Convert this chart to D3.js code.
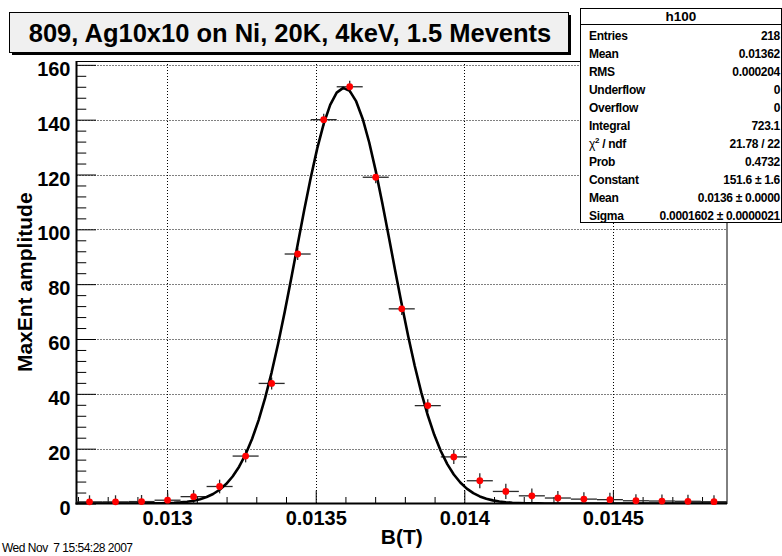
<!DOCTYPE html>
<html><head><meta charset="utf-8">
<script src="https://cdn.jsdelivr.net/npm/d3@7"></script>
<style>
body{margin:0;background:#fff}
text{font-family:"Liberation Sans",Arial,Helvetica,sans-serif}
</style>
</head><body>
<svg id="c" width="782" height="556"></svg>
<script>
// ---- data ----
const binRange = [0.012695, 0.014884];          // histogram axis range, B(T)
const values = [0.6, 0.6, 0.7, 1.2, 2.5, 6.2, 17.3, 43.8, 91, 140, 152, 119, 71, 35.7,
                17, 8.3, 4.4, 2.8, 2.0, 1.6, 1.4, 1.0, 0.9, 0.8, 0.65];
const errors = [2.4, 2.4, 2.4, 2.4, 2.4, 2.5, 2.3, 2.2, 2.2, 2.2, 2.2, 2.2, 2.2, 2.3,
                2.6, 2.7, 2.8, 2.7, 2.6, 2.5, 2.5, 2.4, 2.4, 2.4, 2.4];
const yRange = [0, 161.4];
const xTicks = [0.013, 0.0135, 0.014, 0.0145];
const xTickLabels = ["0.013", "0.0135", "0.014", "0.0145"];
const yTicks = [0, 20, 40, 60, 80, 100, 120, 140, 160];
const yTickLabels = ["0", "20", "40", "60", "80", "100", "120", "140", "160"];
const fitConstant = 151.6, fitMean = 0.013595, fitSigma = 0.0001602;
const titleText = "809, Ag10x10 on Ni, 20K, 4keV, 1.5 Mevents";
const xTitle = "B(T)", yTitle = "MaxEnt amplitude";
const statsName = "h100";
const statsLabels = ["Entries", "Mean", "RMS", "Underflow", "Overflow", "Integral", "CHI2", "Prob", "Constant", "Mean", "Sigma"];
const statsValues = ["218", "0.01362", "0.000204", "0", "0", "723.1", "21.78 / 22", "0.4732",
                     "151.6 \u00b1 1.6", "0.0136 \u00b1 0.0000", "0.0001602 \u00b1 0.0000021"];
const dateText = "Wed Nov  7 15:54:28 2007";

// ---- layout ----
const svg = d3.select("#c");
const L = 76.5, R = 727, T = 61, B = 503.5;
const x = d3.scaleLinear().domain(binRange).range([L, R]);
const y = d3.scaleLinear().domain(yRange).range([B, T]);
const nb = values.length;
const bw = (binRange[1] - binRange[0]) / nb;
const bins = values.map((v, i) => ({lo: binRange[0] + i * bw, c: binRange[0] + (i + 0.5) * bw, hi: binRange[0] + (i + 1) * bw, v, e: errors[i]}));

svg.append("rect").attr("width", 782).attr("height", 556).attr("fill", "#fff");

// grid
const grid = svg.append("g").attr("stroke", "#000").attr("stroke-width", 1).attr("stroke-dasharray", "1,2");
grid.selectAll("line.gx").data(xTicks).join("line")
  .attr("x1", d => Math.round(x(d)) + 0.5).attr("x2", d => Math.round(x(d)) + 0.5)
  .attr("y1", T).attr("y2", B);
grid.selectAll("line.gy").data(yTicks.filter(d => d > 0)).join("line")
  .attr("x1", L).attr("x2", R)
  .attr("y1", d => Math.round(y(d)) + 0.5).attr("y2", d => Math.round(y(d)) + 0.5);

// axes (ticks inward)
const minorX = d3.range(0.0127, 0.01490, 0.0001).map(d => +d.toFixed(4)).filter(d => d >= binRange[0] && d <= binRange[1] && !xTicks.some(t => Math.abs(t - d) < 1e-9));
const minorY = d3.range(0, 161, 4).filter(d => d % 20 !== 0);

const gxMinor = svg.append("g").attr("transform", `translate(0,${B})`)
  .call(d3.axisBottom(x).tickValues(minorX).tickSize(-6.5).tickFormat(""));
const gx = svg.append("g").attr("transform", `translate(0,${B})`)
  .call(d3.axisBottom(x).tickValues(xTicks).tickSize(-13).tickFormat((d, i) => xTickLabels[i]));
gx.selectAll("text").attr("y", 21.5).attr("dy", null)
  .attr("font-size", 20).attr("font-weight", "bold").attr("fill", "#000");
const gyMinor = svg.append("g").attr("transform", `translate(${L},0)`)
  .call(d3.axisLeft(y).tickValues(minorY).tickSize(-9.75).tickFormat(""));
const gy = svg.append("g").attr("transform", `translate(${L},0)`)
  .call(d3.axisLeft(y).tickValues(yTicks).tickSize(-19.5).tickFormat((d, i) => yTickLabels[i]));
gy.selectAll("text").attr("x", -6).attr("dy", "0.53em")
  .attr("font-size", 20).attr("font-weight", "bold").attr("fill", "#000");
[gxMinor, gx, gyMinor, gy].forEach(g => {
  g.select(".domain").remove();
  g.selectAll(".tick line").attr("stroke", "#000").attr("stroke-width", 1);
  g.attr("font-family", null);
});

// frame
svg.append("rect").attr("x", L).attr("y", T + 0.5).attr("width", R - L).attr("height", B - T - 0.5)
  .attr("fill", "none").attr("stroke", "#000").attr("stroke-width", 1);
svg.append("line").attr("x1", L).attr("x2", L).attr("y1", T).attr("y2", B + 1).attr("stroke", "#000").attr("stroke-width", 2);
svg.append("line").attr("x1", L - 1).attr("x2", R).attr("y1", B).attr("y2", B).attr("stroke", "#000").attr("stroke-width", 2);

// error bars
const eb = svg.append("g").attr("stroke", "#2a2a2a").attr("stroke-width", 1.3);
eb.selectAll("line.h").data(bins).join("line")
  .attr("x1", d => x(d.lo)).attr("x2", d => x(d.hi))
  .attr("y1", d => y(d.v)).attr("y2", d => y(d.v));
eb.selectAll("line.v").data(bins).join("line")
  .attr("x1", d => x(d.c)).attr("x2", d => x(d.c))
  .attr("y1", d => Math.min(B, y(d.v - d.e))).attr("y2", d => y(d.v + d.e));

// fit curve
const clipId = "plotclip";
svg.append("clipPath").attr("id", clipId).append("rect").attr("x", L).attr("y", T).attr("width", R - L).attr("height", B - T);
const fx = d3.range(0, 101).map(i => binRange[0] + i * (binRange[1] - binRange[0]) / 100);
const gauss = b => fitConstant * Math.exp(-0.5 * Math.pow((b - fitMean) / fitSigma, 2));
svg.append("path").datum(fx)
  .attr("clip-path", `url(#${clipId})`)
  .attr("d", d3.line().x(d => x(d)).y(d => y(gauss(d))))
  .attr("fill", "none").attr("stroke", "#000").attr("stroke-width", 2.6).attr("stroke-linejoin", "round");

// markers
svg.append("g").selectAll("circle").data(bins).join("circle")
  .attr("cx", d => x(d.c)).attr("cy", d => y(d.v)).attr("r", 3.4).attr("fill", "#ff0000");

// axis titles
svg.append("text").attr("x", (L + R) / 2).attr("y", 544).attr("text-anchor", "middle")
  .attr("font-size", 21).attr("font-weight", "bold").text(xTitle);
svg.append("text").attr("transform", `translate(32,${(T + B) / 2}) rotate(-90)`).attr("text-anchor", "middle")
  .attr("font-size", 21).attr("font-weight", "bold").text(yTitle);

// title box
svg.append("rect").attr("x", 12).attr("y", 15).attr("width", 559).attr("height", 40).attr("fill", "#000");
svg.append("rect").attr("x", 9.5).attr("y", 12.5).attr("width", 559).attr("height", 40)
  .attr("fill", "#f0f0f0").attr("stroke", "#000").attr("stroke-width", 1);
svg.append("text").attr("x", 290).attr("y", 42).attr("text-anchor", "middle")
  .attr("font-size", 25.5).attr("font-weight", "bold").text(titleText);

// stats box
const sb = svg.append("g");
sb.append("rect").attr("x", 580.5).attr("y", 8.5).attr("width", 201).attr("height", 214)
  .attr("fill", "#fff").attr("stroke", "#000").attr("stroke-width", 1);
sb.append("line").attr("x1", 580.5).attr("x2", 781.5).attr("y1", 24.5).attr("y2", 24.5).attr("stroke", "#000");
sb.append("text").attr("x", 681).attr("y", 20.5).attr("text-anchor", "middle")
  .attr("font-size", 13.5).attr("font-weight", "bold").text(statsName);
statsLabels.forEach((lab, i) => {
  const yy = 39.5 + i * 18;
  const t = sb.append("text").attr("x", 589).attr("y", yy).attr("font-size", 12).attr("font-weight", "bold").attr("letter-spacing", -0.3);
  if (lab === "CHI2") {
    t.append("tspan").text("\u03c7").attr("font-weight", "normal");
    t.append("tspan").text("2").attr("font-size", 8).attr("dy", -5);
    t.append("tspan").text(" / ndf").attr("dy", 5);
  } else t.text(lab);
  sb.append("text").attr("x", 780).attr("y", yy).attr("text-anchor", "end")
    .attr("font-size", 12).attr("font-weight", "bold").attr("letter-spacing", -0.3).text(statsValues[i]);
});

// date
svg.append("text").attr("x", 2).attr("y", 552).attr("font-size", 12).attr("letter-spacing", -0.5)
  .style("white-space", "pre").text(dateText);
</script>
</body></html>
